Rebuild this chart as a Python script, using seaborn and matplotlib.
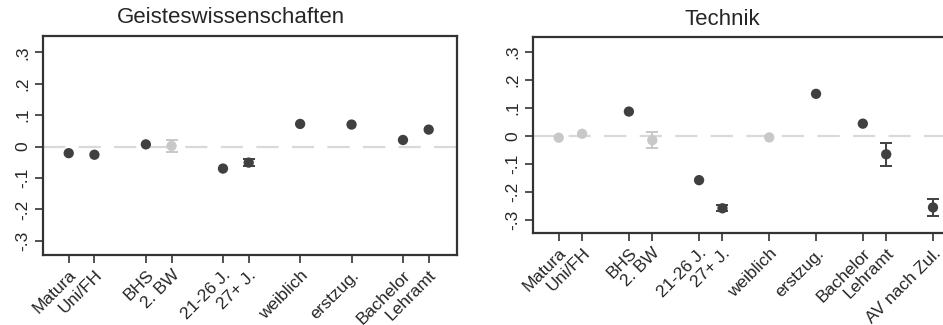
import pandas as pd
import matplotlib
matplotlib.use('Agg')
import matplotlib.pyplot as plt
import seaborn as sns

## Daten
pos_geist = [1, 2, 4, 5, 7, 8, 10, 12, 14, 15]
lab_geist = ['Matura', 'Uni/FH', 'BHS', '2. BW', '21-26 J.', '27+ J.',
             'weiblich', 'erstzug.', 'Bachelor', 'Lehramt']
coef_geist = [-0.021, -0.026, 0.007, 0.002, -0.070, -0.051, 0.072, 0.070, 0.021, 0.054]
err_geist = [0.004, 0.004, 0.004, 0.020, 0.005, 0.010, 0.004, 0.004, 0.004, 0.005]
sig_geist = [1, 1, 1, 0, 1, 1, 1, 1, 1, 1]

pos_tech = [1, 2, 4, 5, 7, 8, 10, 12, 14, 15, 17]
lab_tech = ['Matura', 'Uni/FH', 'BHS', '2. BW', '21-26 J.', '27+ J.',
            'weiblich', 'erstzug.', 'Bachelor', 'Lehramt', 'AV nach Zul.']
coef_tech = [-0.006, 0.008, 0.087, -0.015, -0.157, -0.257, -0.005, 0.150, 0.044, -0.065, -0.254]
err_tech = [0.004, 0.004, 0.004, 0.028, 0.004, 0.010, 0.004, 0.004, 0.005, 0.040, 0.031]
sig_tech = [0, 0, 1, 0, 1, 1, 0, 1, 1, 1, 1]

yticks = [-0.3, -0.2, -0.1, 0, 0.1, 0.2, 0.3]
ytick_lab = ['-.3', '-.2', '-.1', '0', '.1', '.2', '.3']

dunkel = '#404040'
hell = '#c8c8c8'

sns.set_style('white')
plt.rcParams['font.family'] = ['Liberation Sans', 'DejaVu Sans']

fig = plt.figure(figsize=(9.43, 3.25), dpi=100)
ax1 = fig.add_axes([0.0456, 0.2154, 0.439, 0.674])
ax2 = fig.add_axes([0.5652, 0.283, 0.449, 0.603])


def panel(ax, pos, lab, coef, err, sig, titel, xlim, tx):
    df = pd.DataFrame({'pos': pos, 'coef': coef, 'err': err,
                       'sig': ['ja' if s else 'nein' for s in sig]})
    ax.axhline(0, color='#d9d9d9', linewidth=1.6, dashes=(10, 6), zorder=0)
    # KI nur zeichnen, wo sie über den Marker hinausragt
    for s, farbe in [('ja', dunkel), ('nein', hell)]:
        d = df[(df['sig'] == s) & (df['err'] >= 0.008)]
        ax.errorbar(d['pos'], d['coef'], yerr=d['err'], fmt='none',
                    ecolor=farbe, elinewidth=1.4, capsize=4, capthick=1.4, zorder=2)
    sns.scatterplot(data=df, x='pos', y='coef', hue='sig',
                    palette={'ja': dunkel, 'nein': hell}, s=55,
                    edgecolor='none', legend=False, ax=ax, zorder=3)
    ax.set_xlim(*xlim)
    ax.set_ylim(-0.345, 0.352)
    ax.set_xticks(pos)
    ax.set_xticklabels(lab, rotation=45, ha='right', rotation_mode='anchor', fontsize=12.5)
    ax.set_yticks(yticks)
    ax.set_yticklabels(ytick_lab, rotation=90, va='center', fontsize=12.5)
    ax.set_xlabel('')
    ax.set_ylabel('')
    ax.tick_params(axis='both', direction='out', length=6, width=1.2, color='#333333',
                   bottom=True, left=True, pad=3)
    for sp in ax.spines.values():
        sp.set_linewidth(1.6)
        sp.set_color('#333333')
    ax.text(tx, 1.035, titel, transform=ax.transAxes, ha='center', va='bottom', fontsize=16)


panel(ax1, pos_geist, lab_geist, coef_geist, err_geist, sig_geist,
      'Geisteswissenschaften', (0, 16.1), 0.454)
panel(ax2, pos_tech, lab_tech, coef_tech, err_tech, sig_tech,
      'Technik', (-0.1, 18), 0.447)

fig.savefig('out.png', dpi=100)
